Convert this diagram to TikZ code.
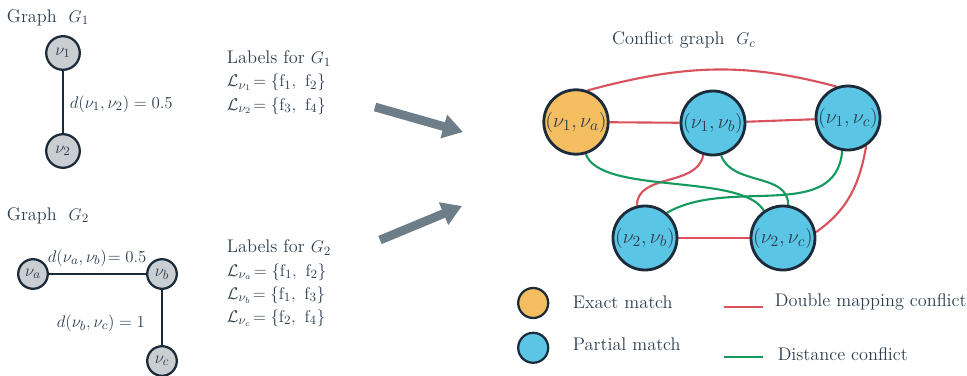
\documentclass[tikz,border=0pt]{standalone}
\usepackage{amsmath}
\usepackage{xcolor}
\usepackage{tikz}
\usetikzlibrary{calc}
\usetikzlibrary{arrows.meta}
\usetikzlibrary{backgrounds}
\definecolor{txtslate}{HTML}{2E3E4E}
\definecolor{rimnavy}{HTML}{1C2B3A}
\definecolor{vgray}{HTML}{C9CED3}
\definecolor{exactorange}{HTML}{F3BD60}
\definecolor{partialblue}{HTML}{5BC5E6}
\definecolor{dmred}{HTML}{D9515C}
\definecolor{distgreen}{HTML}{149A5E}
\definecolor{arrowgray}{HTML}{6D7E88}

\begin{document}
\begin{tikzpicture}[transform shape,scale=1,
	every node/.style={text=txtslate,font=\fontsize{13}{16.5}\selectfont},
	gvert/.style={circle,draw=rimnavy,line width=1.6pt,fill=vgray,inner sep=0pt},
	cvert/.style={circle,draw=rimnavy,line width=2pt,inner sep=0pt,minimum size=1.6cm,font=\fontsize{15}{18}\selectfont},
	gedge/.style={line width=1.3pt,draw=rimnavy},
	dmap/.style={line width=1.5pt,dmred},
	dist/.style={line width=1.5pt,distgreen},
	bigarrow/.style={line width=0.22cm,arrowgray,-{Triangle[length=0.5cm,width=0.58cm]}}]
	\useasboundingbox (0,0) rectangle (24.175,9.375);

	\node[anchor=west] (titleG1) at (0.05,8.93) {Graph~ $G_1$};
	\node[gvert,minimum size=0.84cm] (v1) at (1.575,8.05) {$\nu_1$};
	\node[gvert,minimum size=0.84cm] (v2) at (1.575,5.6) {$\nu_2$};
	\draw[gedge] (v1) -- (v2);
	\node[anchor=west] (d12) at (1.62,6.78) {$d(\nu_1,\nu_2) = 0.5$};

	\node[anchor=west] (titleG2) at (0.05,3.98) {Graph~ $G_2$};
	\node[gvert,minimum size=0.74cm] (va) at (0.825,2.525) {$\nu_a$};
	\node[gvert,minimum size=0.74cm] (vb) at (4.05,2.525) {$\nu_b$};
	\node[gvert,minimum size=0.74cm] (vc) at (4.05,0.35) {$\nu_c$};
	\draw[gedge] (va) -- (vb);
	\draw[gedge] (vb) -- (vc);
	\node (dab) at (2.43,2.93) {$d(\nu_a,\nu_b)\mkern-4mu= 0.5$};
	\node[anchor=east] (dbc) at (3.75,1.3) {$d(\nu_b,\nu_c) = 1$};

	\node[anchor=north west,align=left] (lab1) at (5.55,8.23) {Labels for $G_1$\\
		$\mathcal{L}_{\nu_1}\!= \{\mathrm{f}_1,\ \mathrm{f}_2\}$\\
		$\mathcal{L}_{\nu_2}\!= \{\mathrm{f}_3,\ \mathrm{f}_4\}$};
	\node[anchor=north west,align=left] (lab2) at (5.55,3.5) {Labels for $G_2$\\
		$\mathcal{L}_{\nu_a}\!= \{\mathrm{f}_1,\ \mathrm{f}_2\}$\\
		$\mathcal{L}_{\nu_b}\!= \{\mathrm{f}_1,\ \mathrm{f}_3\}$\\
		$\mathcal{L}_{\nu_c}\!= \{\mathrm{f}_2,\ \mathrm{f}_4\}$};

	\coordinate (a1s) at (9.375,6.7);
	\coordinate (a1e) at (11.575,6.075);
	\coordinate (a2s) at (9.5,3.375);
	\coordinate (a2e) at (11.55,4.225);
	\draw[bigarrow] (a1s) -- (a1e);
	\draw[bigarrow] (a2s) -- (a2e);

	\node (titleGc) at (17.1,8.37) {Conflict graph~ $G_c$};
	\node[cvert,fill=exactorange] (c1a) at (14.4,6.325) {$(\nu_1,\nu_a)$};
	\node[cvert,fill=partialblue] (c1b) at (17.825,6.3) {$(\nu_1,\nu_b)$};
	\node[cvert,fill=partialblue] (c1c) at (21.2,6.425) {$(\nu_1,\nu_c)$};
	\node[cvert,fill=partialblue] (c2b) at (16.125,3.425) {$(\nu_2,\nu_b)$};
	\node[cvert,fill=partialblue] (c2c) at (19.575,3.425) {$(\nu_2,\nu_c)$};

	\begin{scope}[on background layer]
	\draw[dmap] (c1a) -- (c1b);
	\draw[dmap] (c1b) -- (c1c);
	\draw[dmap] (c2b) -- (c2c);
	\draw[dmap] (c1a.70) to[out=15,in=165] (c1c.110);
	\draw[dmap] (c1b.-107) to[out=-100,in=90] (c2b.104);
	\draw[dmap] (c1c.-57) to[out=-100,in=35] (c2c.10);
	\draw[dist] (c1a.-73) to[out=-70,in=120,looseness=0.6] (c2c.125);
	\draw[dist] (c1b.-76) to[out=-70,in=90] (c2c.81);
	\draw[dist] (c1c.-100) to[out=-95,in=30] (c2b.49);
	\end{scope}

	\node[circle,draw=rimnavy,line width=1.6pt,fill=exactorange,minimum size=0.75cm] (kexact) at (13.33,1.8) {};
	\node[circle,draw=rimnavy,line width=1.6pt,fill=partialblue,minimum size=0.75cm] (kpartial) at (13.33,0.68) {};
	\node[anchor=west] (texact) at (14.2,1.83) {Exact match};
	\node[anchor=west] (tpartial) at (14.2,0.78) {Partial match};
	\coordinate (kr1) at (18.1,1.7);
	\coordinate (kr2) at (19.075,1.7);
	\coordinate (kg1) at (18.1,0.45);
	\coordinate (kg2) at (19.075,0.45);
	\draw[dmap] (kr1) -- (kr2);
	\draw[dist] (kg1) -- (kg2);
	\node[anchor=west] (tdmap) at (19.25,1.82) {Double mapping conflict};
	\node[anchor=west] (tdist) at (19.32,0.53) {Distance conflict};
\end{tikzpicture}
\end{document}
